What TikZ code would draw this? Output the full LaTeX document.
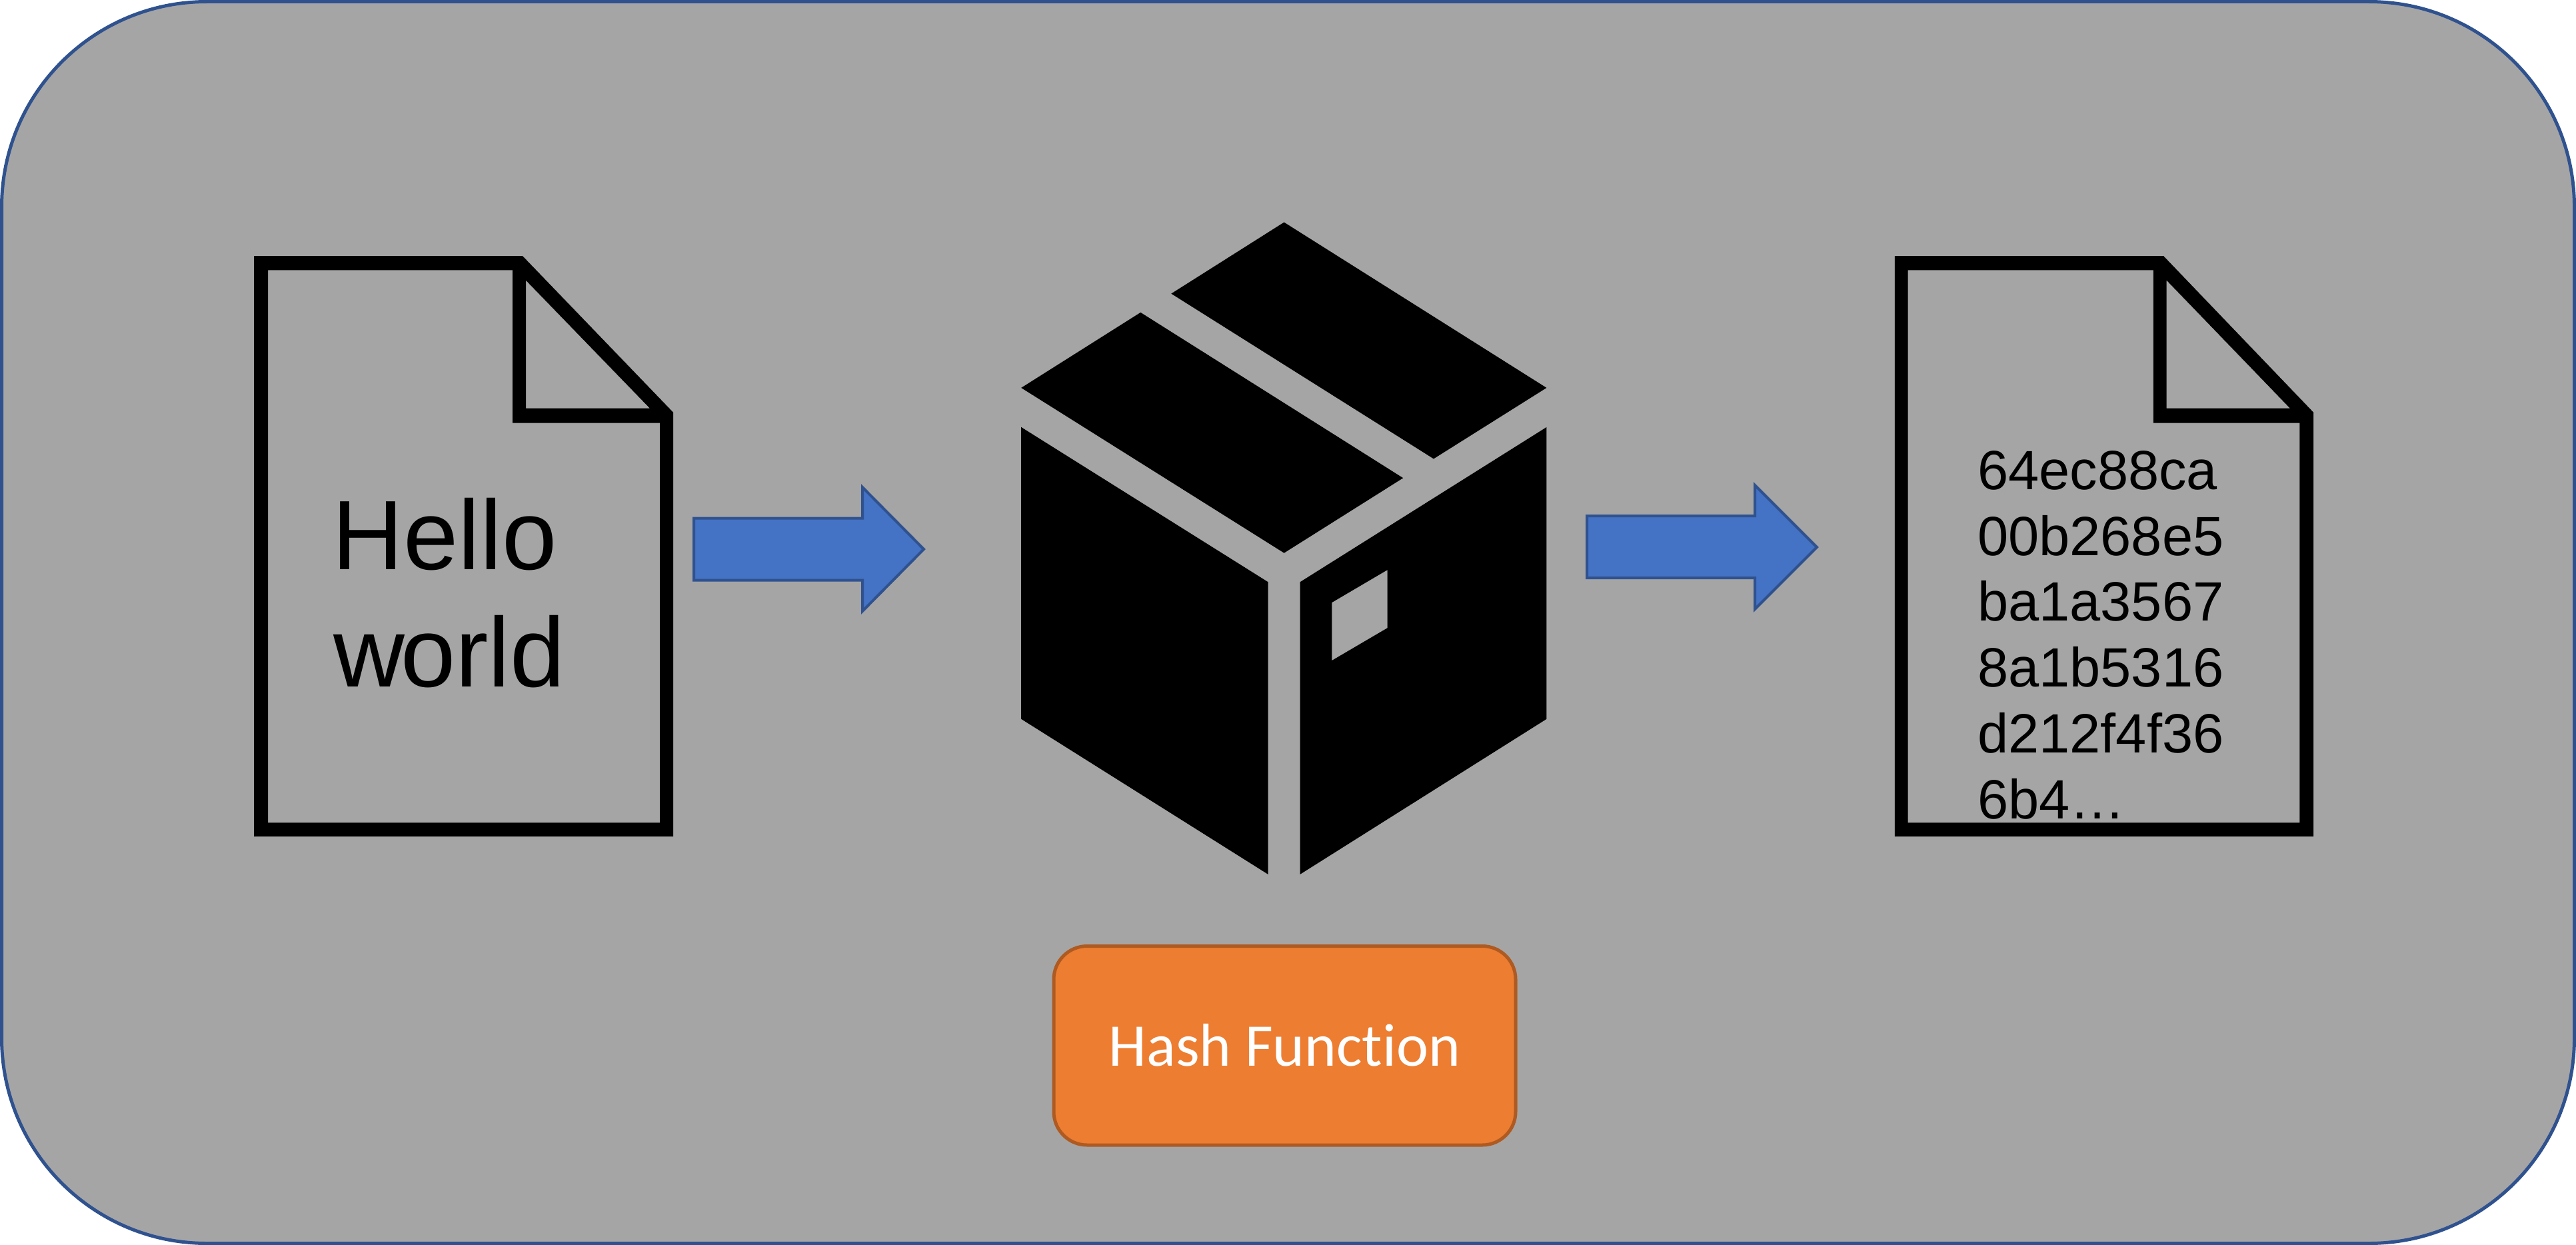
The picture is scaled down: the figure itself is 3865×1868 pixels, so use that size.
\documentclass[tikz,border=0pt]{standalone}
\usepackage{fontspec}
\newfontfamily\docfont{Liberation Sans}
\newfontfamily\boxfont[Ligatures=NoCommon]{Carlito}
\definecolor{panelgray}{HTML}{A5A5A5}
\definecolor{panelline}{HTML}{2F528F}
\definecolor{arrowblue}{HTML}{4472C4}
\definecolor{boxorange}{HTML}{ED7D31}
\definecolor{boxline}{HTML}{AE5A21}
\tikzset{
  panel/.style={fill=panelgray,draw=panelline,line width=5pt,rounded corners=308pt},
  blockarrow/.style={fill=arrowblue,draw=panelline,line width=4pt,miter limit=10},
  glyph/.style={fill=black,even odd rule},
  hello/.style={inner sep=0pt,align=center,font=\docfont\fontsize{148}{176}\selectfont},
  hashtext/.style={inner sep=0pt,align=left,font=\docfont\fontsize{83}{98.9}\selectfont},
  hashbox/.style={fill=boxorange,draw=boxline,line width=5pt,rounded corners=50pt,inner sep=0pt,
    minimum width=693pt,minimum height=298.5pt,text=white,text height=61pt,text depth=0pt,
    font=\boxfont\fontsize{91}{108}\selectfont}
}
\begin{document}
\begin{tikzpicture}[x=1pt,y=-1pt]
\useasboundingbox (0,0) rectangle (3865,1868);
\draw[panel] (2.5,2.5) rectangle (3862.5,1865.5);
% input document
\fill[glyph] (381,384) -- (784,384) -- (1010,618.7) -- (1010,1255) -- (381,1255) -- cycle
  (402,405.4) -- (769,405.4) -- (769,634.5) -- (990,634.5) -- (990,1234.3) -- (402,1234.3) -- cycle
  (789,420.6) -- (975,612.6) -- (789,612.6) -- cycle;
\node[hello,anchor=center] (input) at (667,890) {Hello\\\hspace*{14pt}w\kern-6pt orld};
% first arrow
\draw[blockarrow] (1041,777.5) -- (1294,777.5) -- (1294,731) -- (1386,824) -- (1294,917) -- (1294,870.5) -- (1041,870.5) -- cycle;
% box icon
\fill[black] (1926.6,333.5) -- (2320.4,581.9) -- (2151,688.4) -- (1757.3,440.6) -- cycle;
\fill[black] (1711.3,468.8) -- (2105.2,717.2) -- (1926.6,829.7) -- (1532.2,581.9) -- cycle;
\fill[black] (1532.2,640.9) -- (1902.5,873.2) -- (1902.5,1311.8) -- (1532.2,1078.8) -- cycle;
\fill[glyph] (1950.7,873.2) -- (2320.4,640.9) -- (2320.4,1078.8) -- (1950.7,1311.8) -- cycle
  (1998.4,904) -- (2081.6,855.1) -- (2081.6,942.2) -- (1998.4,991) -- cycle;
% second arrow
\draw[blockarrow] (2381,774) -- (2633,774) -- (2633,728) -- (2726,821) -- (2633,914) -- (2633,867) -- (2381,867) -- cycle;
% output document
\fill[glyph] (2842.8,384) -- (3246,384) -- (3471,618.7) -- (3471,1255) -- (2842.8,1255) -- cycle
  (2862.7,405.4) -- (3230.8,405.4) -- (3230.8,634.5) -- (3450.4,634.5) -- (3450.4,1234.3) -- (2862.7,1234.3) -- cycle
  (3250.7,420.6) -- (3435.9,612.6) -- (3250.7,612.6) -- cycle;
\node[hashtext,anchor=north west] (output) at (2967,676) {64ec88ca\\00b268e5\\ba1a3567\\8a1b5316\\d212f4f36\\6b4\ldots};
% label
\node[hashbox] (hash) at (1927.5,1568.75) {Hash Function};
\end{tikzpicture}
\end{document}
